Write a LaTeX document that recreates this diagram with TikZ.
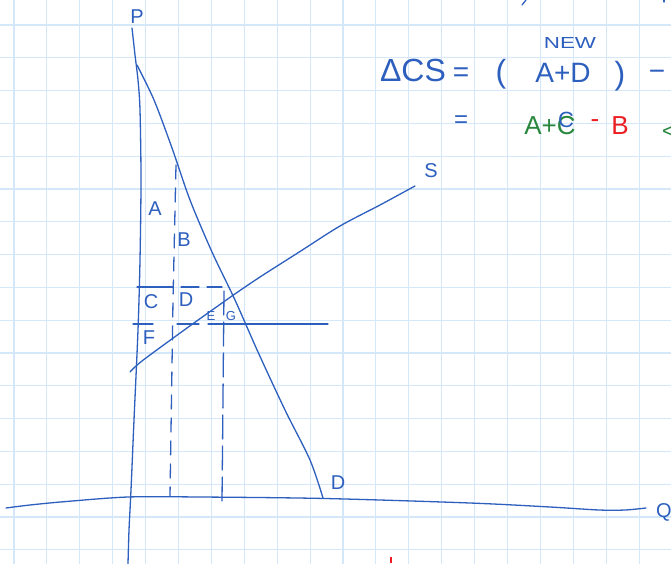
\documentclass[tikz,border=0pt]{standalone}
\usepackage{fontspec}
\setmainfont{Liberation Sans}
\definecolor{ink}{RGB}{45,95,190}
\definecolor{gridc}{RGB}{212,232,250}
\definecolor{inkgreen}{RGB}{40,135,60}
\definecolor{inkred}{RGB}{235,30,35}
\begin{document}
\begin{tikzpicture}[x=1pt,y=-1pt,
  pen/.style={ink, line width=1.3pt, line cap=round, line join=round},
  dashpen/.style={pen, dash pattern=on 14pt off 9pt},
  lab/.style={ink, inner sep=0pt, font=\fontsize{20}{20}\selectfont},
  smalllab/.style={ink, inner sep=0pt, font=\fontsize{13}{13}\selectfont},
  eq/.style={ink, inner sep=0pt, font=\fontsize{28}{28}\selectfont}]
\useasboundingbox (0,0) rectangle (671,564);
\fill[white] (0,0) rectangle (671,564);
% graph paper
\foreach \i in {0,...,19} \draw[gridc, line width=1.1pt] ({14+32.9*\i},0) -- ({14+32.9*\i},564);
\foreach \j in {0,...,16} \draw[gridc, line width=1.1pt] (0,{25+32.8*\j}) -- (671,{25+32.8*\j});
% price axis
\draw[pen] plot[smooth] coordinates {(132,28) (135,55) (138,80) (140,110) (141,180) (140,260) (138,330) (134,420) (131,490) (129,530) (128,564)};
% quantity axis
\draw[pen] plot[smooth] coordinates {(6,508) (30,505) (64,501.7) (128,497) (200,497) (325,498.5) (470,503) (550,507) (599,510) (625,510) (646,508)};
% demand
\draw[pen] plot[smooth] coordinates {(137,65) (154,100) (172,148) (190,200) (212,252) (235,300) (258,352) (285,410) (310,460) (323,498)};
% supply
\draw[pen] plot[smooth] coordinates {(130,372) (142,361) (187,328) (232,296) (260,277) (300,251.5) (340,226) (380,205) (415,186)};
% dashed guides
\draw[dashpen] (176,165) -- (173,300) -- (170,496);
\draw[pen, dash pattern=on 24pt off 7pt] (224,291) -- (222,502);
\draw[pen, dash pattern=on 36pt off 8pt on 18pt off 8pt] (137,287) -- (222,287);
\draw[pen, dash pattern=on 20pt off 24pt on 22pt off 9pt on 200pt off 0pt] (133,324) -- (328,324);
% axis / curve labels
\node[lab] (lblP) at (137,17) {P};
\node[lab] (lblS) at (431,171) {S};
\node[lab] (lblD) at (338,483) {D};
\node[lab] (lblQ) at (664,512) {Q};
% area labels
\node[lab] (lblA) at (155,209) {A};
\node[lab] (lblB) at (184,240) {B};
\node[lab] (lblC) at (151,302) {C};
\node[lab] (lblDD) at (186,300) {D};
\node[smalllab] (lblE) at (211,316) {E};
\node[smalllab] (lblG) at (231,316) {G};
\node[lab] (lblF) at (149,338) {F};
% equation, line 1
\node[ink, inner sep=0pt, font=\fontsize{32}{32}\selectfont] (dcs) at (413,70) {ΔCS};
\node[eq] (eq1) at (461,75) {=};
\node[eq, font=\fontsize{32}{32}\selectfont] (lp) at (501,74) {(};
\node[eq] (apd) at (563,73) {A+D};
\node[ink, inner sep=0pt, font=\fontsize{16}{16}\selectfont, xscale=1.4, transform shape] (new) at (570,43) {NEW};
\node[eq, font=\fontsize{32}{32}\selectfont] (rp) at (620,76) {)};
\node[eq] (minus1) at (657,75) {−};
% equation, line 2
\node[ink, inner sep=0pt, font=\fontsize{24}{24}\selectfont] (eq2) at (461,122) {=};
\node[inkgreen, inner sep=0pt, font=\fontsize{26}{26}\selectfont] (apc) at (550,126) {A+C};
\node[ink, inner sep=0pt, font=\fontsize{22}{22}\selectfont] (cblue) at (566,120) {C};
\node[inkred, inner sep=0pt, font=\fontsize{26}{26}\selectfont] (mred) at (595,124) {-};
\node[inkred, inner sep=0pt, font=\fontsize{26}{26}\selectfont] (bred) at (620,126) {B};
\node[inkgreen, inner sep=0pt, font=\fontsize{22}{22}\selectfont, anchor=west] (lt) at (662,132) {<};
% stray marks
\draw[pen] (526,0) -- (522,5);
\draw[pen] (664,0) -- (664,2);
\draw[inkred, line width=1.6pt] (391,557) -- (391,563);
\end{tikzpicture}
\end{document}
